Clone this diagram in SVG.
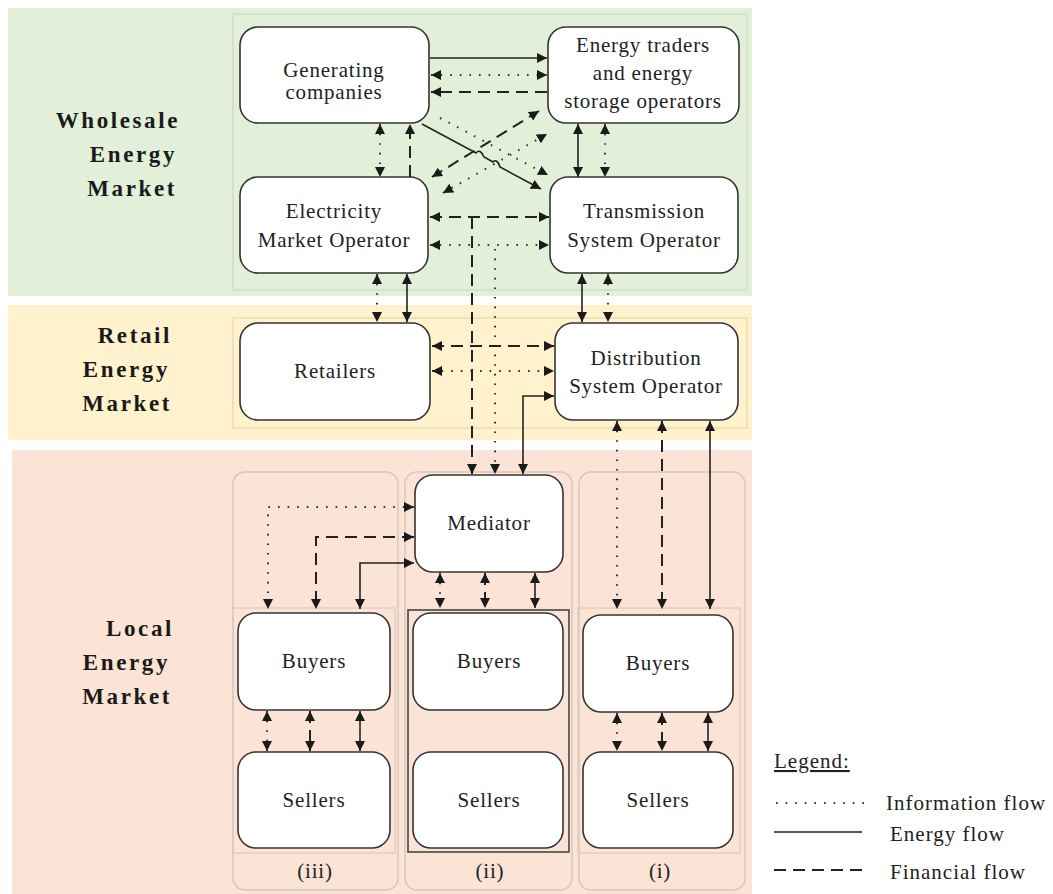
<svg xmlns="http://www.w3.org/2000/svg" width="1053" height="894" viewBox="0 0 1053 894">
<style>
.box{fill:#fff;stroke:#333;stroke-width:1.6}
.t{font-family:"Liberation Serif","Times New Roman",serif;font-size:21px;fill:#222;text-anchor:middle;letter-spacing:0.8px}
.h{font-family:"Liberation Serif","Times New Roman",serif;font-size:23px;font-weight:bold;fill:#1a1a1a;text-anchor:end;letter-spacing:2.6px}
.lg{font-family:"Liberation Serif","Times New Roman",serif;font-size:21px;fill:#222;letter-spacing:1px}
.en{fill:none;stroke:#222;stroke-width:1.6}
.fi{fill:none;stroke:#222;stroke-width:2;stroke-dasharray:12 7}
.in{fill:none;stroke:#333;stroke-width:2;stroke-dasharray:1.6 8}
.col{fill:none;stroke:#d8c6ba;stroke-width:1.5}
.fr{fill:none;stroke:#cfdcc7;stroke-width:1.5}
</style>
<defs>
<marker id="a" viewBox="0 0 10 10" refX="10" refY="5" markerWidth="10" markerHeight="10" markerUnits="userSpaceOnUse" orient="auto-start-reverse">
<path d="M0,0 L10,5 L0,10 z" fill="#1a1a1a"/>
</marker>
</defs>
<g id="bands">
<rect x="8" y="8" width="744" height="288" fill="#e2efd9"/>
<rect x="233" y="14" width="514" height="276" class="fr"/>
<rect x="8" y="305" width="744" height="135" fill="#fff2cc"/>
<rect x="233" y="318" width="514" height="110" fill="none" stroke="#ecdcae" stroke-width="1.5"/>
<rect x="12" y="450" width="740" height="444" fill="#fbe4d5"/>
<rect x="233" y="472" width="165" height="418" rx="12" class="col"/>
<rect x="405" y="472" width="167" height="418" rx="12" class="col"/>
<rect x="579" y="472" width="166" height="418" rx="12" class="col"/>
<rect x="233" y="608" width="162" height="245" fill="none" stroke="#dccabe" stroke-width="1.2"/>
<rect x="578" y="608" width="162" height="245" fill="none" stroke="#dccabe" stroke-width="1.2"/>
<rect x="408" y="610" width="161" height="242" fill="none" stroke="#444" stroke-width="1.6"/>
</g>
<g id="market-labels">
<text class="h" x="180" y="128">Wholesale</text>
<text class="h" x="177" y="162">Energy</text>
<text class="h" x="177" y="196">Market</text>
<text class="h" x="172" y="343">Retail</text>
<text class="h" x="170" y="377">Energy</text>
<text class="h" x="172" y="411">Market</text>
<text class="h" x="174" y="636">Local</text>
<text class="h" x="170" y="670">Energy</text>
<text class="h" x="172" y="704">Market</text>
</g>
<g id="gen"><rect class="box" x="240" y="27" width="189" height="96" rx="18"/><text class="t" x="334" y="77">Generating</text><text class="t" x="334" y="99">companies</text></g>
<g id="traders"><rect class="box" x="548" y="27" width="191" height="96" rx="18"/><text class="t" x="643" y="52">Energy traders</text><text class="t" x="643" y="80">and energy</text><text class="t" x="643" y="108">storage operators</text></g>
<g id="emo"><rect class="box" x="240" y="177" width="188" height="96" rx="18"/><text class="t" x="334" y="218">Electricity</text><text class="t" x="334" y="247">Market Operator</text></g>
<g id="tso"><rect class="box" x="550" y="177" width="188" height="96" rx="18"/><text class="t" x="644" y="218">Transmission</text><text class="t" x="644" y="247">System Operator</text></g>
<g id="retailers"><rect class="box" x="240" y="323" width="190" height="97" rx="18"/><text class="t" x="335" y="378">Retailers</text></g>
<g id="dso"><rect class="box" x="555" y="323" width="183" height="97" rx="18"/><text class="t" x="646" y="365">Distribution</text><text class="t" x="646" y="393">System Operator</text></g>
<g id="mediator"><rect class="box" x="415" y="475" width="148" height="97" rx="18"/><text class="t" x="489" y="530">Mediator</text></g>
<g id="buyers3"><rect class="box" x="238" y="613" width="152" height="97" rx="18"/><text class="t" x="314" y="668">Buyers</text></g>
<g id="sellers3"><rect class="box" x="238" y="752" width="152" height="96" rx="18"/><text class="t" x="314" y="807">Sellers</text></g>
<g id="buyers2"><rect class="box" x="413" y="613" width="150" height="97" rx="18"/><text class="t" x="489" y="668">Buyers</text></g>
<g id="sellers2"><rect class="box" x="413" y="752" width="150" height="96" rx="18"/><text class="t" x="489" y="807">Sellers</text></g>
<g id="buyers1"><rect class="box" x="583" y="615" width="150" height="97" rx="18"/><text class="t" x="658" y="670">Buyers</text></g>
<g id="sellers1"><rect class="box" x="583" y="752" width="150" height="96" rx="18"/><text class="t" x="658" y="807">Sellers</text></g>
<g id="col-labels">
<text class="t" x="315" y="878">(iii)</text>
<text class="t" x="490" y="878">(ii)</text>
<text class="t" x="660" y="878">(i)</text>
</g>
<g id="connectors">
<path class="en" d="M430,58 H547" marker-end="url(#a)"/>
<path class="in" d="M431,75 H547" marker-start="url(#a)" marker-end="url(#a)"/>
<path class="fi" d="M547,92 H431" marker-end="url(#a)"/>
<path class="in" d="M380,124 V177" marker-start="url(#a)" marker-end="url(#a)"/>
<path class="fi" d="M410,177 V124" marker-end="url(#a)"/>
<path class="en" d="M578,124 V177" marker-start="url(#a)" marker-end="url(#a)"/>
<path class="in" d="M605,124 V177" marker-start="url(#a)" marker-end="url(#a)"/>
<path class="en" d="M422,124 L476,153 Q480,148 484,157 L493,162 Q497,158 500,167 L541,189" marker-end="url(#a)"/>
<path class="fi" d="M432,177 L539,111" marker-start="url(#a)" marker-end="url(#a)"/>
<path class="in" d="M440,118 L548,175" marker-end="url(#a)"/>
<path class="in" d="M443,193 L547,134" marker-start="url(#a)" marker-end="url(#a)"/>
<path class="fi" d="M430,217 H549" marker-start="url(#a)" marker-end="url(#a)"/>
<path class="in" d="M430,245 H549" marker-start="url(#a)" marker-end="url(#a)"/>
<path class="fi" d="M472,217 V474" marker-end="url(#a)"/>
<path class="in" d="M495,249 V474" marker-end="url(#a)"/>
<path class="in" d="M377,274 V322" marker-start="url(#a)" marker-end="url(#a)"/>
<path class="en" d="M407,274 V322" marker-start="url(#a)" marker-end="url(#a)"/>
<path class="en" d="M582,274 V322" marker-start="url(#a)" marker-end="url(#a)"/>
<path class="in" d="M608,274 V322" marker-start="url(#a)" marker-end="url(#a)"/>
<path class="fi" d="M432,346 H554" marker-start="url(#a)" marker-end="url(#a)"/>
<path class="in" d="M432,371 H554" marker-start="url(#a)" marker-end="url(#a)"/>
<path class="en" d="M523,474 V396 H554" marker-start="url(#a)" marker-end="url(#a)"/>
<path class="in" d="M617,421 V609" marker-start="url(#a)" marker-end="url(#a)"/>
<path class="fi" d="M662,421 V609" marker-start="url(#a)" marker-end="url(#a)"/>
<path class="en" d="M710,421 V609" marker-start="url(#a)" marker-end="url(#a)"/>
<path class="in" d="M414,507 H268 V609" marker-start="url(#a)" marker-end="url(#a)"/>
<path class="fi" d="M414,537 H316 V609" marker-start="url(#a)" marker-end="url(#a)"/>
<path class="en" d="M414,563 H360 V609" marker-start="url(#a)" marker-end="url(#a)"/>
<path class="in" d="M440,573 V608" marker-start="url(#a)" marker-end="url(#a)"/>
<path class="fi" d="M485,573 V608" marker-start="url(#a)" marker-end="url(#a)"/>
<path class="en" d="M535,573 V608" marker-start="url(#a)" marker-end="url(#a)"/>
<path class="in" d="M267,711 V751" marker-start="url(#a)" marker-end="url(#a)"/>
<path class="fi" d="M310,711 V751" marker-start="url(#a)" marker-end="url(#a)"/>
<path class="en" d="M360,711 V751" marker-start="url(#a)" marker-end="url(#a)"/>
<path class="in" d="M617,713 V751" marker-start="url(#a)" marker-end="url(#a)"/>
<path class="fi" d="M662,713 V751" marker-start="url(#a)" marker-end="url(#a)"/>
<path class="en" d="M708,713 V751" marker-start="url(#a)" marker-end="url(#a)"/>
</g>
<g id="legend">
<text class="lg" x="774" y="768" text-decoration="underline">Legend:</text>
<path class="in" d="M776,803 H868" stroke="#888" stroke-width="1.5"/>
<text class="lg" x="886" y="810">Information flow</text>
<path class="en" d="M774,832 H862"/>
<text class="lg" x="890" y="841">Energy flow</text>
<path class="fi" d="M774,870 H862"/>
<text class="lg" x="890" y="879">Financial flow</text>
</g>
</svg>
